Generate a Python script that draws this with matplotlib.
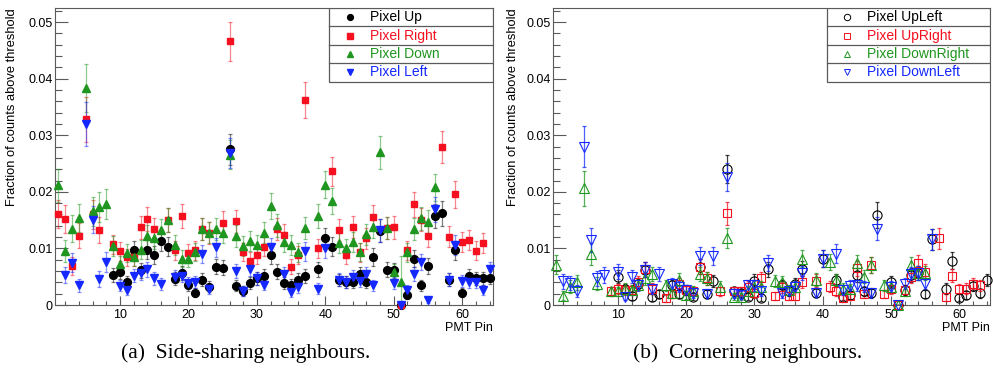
import numpy as np
import matplotlib
matplotlib.use("Agg")
import matplotlib.pyplot as plt
from matplotlib.ticker import MultipleLocator
from matplotlib.patches import Rectangle

nan = np.nan
pins = np.arange(1, 65)

# events recorded for each illuminated pin (sets the error bar size)
n_events = [
    2500, 2500, 2500, 2500, 2100, 2500, 2500, 2500,
    3500, 3500, 3500, 3500, 3500, 3500, 3500, 3500,
    3500, 3500, 3500, 3500, 3500, 3500, 3500, 3500,
    3500, 3800, 3500, 3500, 3500, 3500, 3500, 3500,
    3500, 3500, 3500, 3500, 3500, 3500, 3500, 3500,
    3500, 3500, 3500, 3500, 3500, 3500, 3500, 3200,
    3500, 3500, 200, 3500, 3500, 3500, 3500, 3500,
    3500, 3500, 3500, 3500, 3500, 3500, 3500, 3500,
]

# (a) side-sharing neighbours
pix_up = [
    nan, nan, nan, nan, nan, nan, nan, nan,
    0.0053, 0.0059, 0.0040, 0.0097, 0.0061, 0.0098, 0.0088, 0.0113,
    0.0103, 0.0046, 0.0056, 0.0035, 0.0022, 0.0045, 0.0032, 0.0068,
    0.0066, 0.0275, 0.0034, 0.0025, 0.0039, 0.0047, 0.0052, 0.0088,
    0.0059, 0.0039, 0.0036, 0.0045, 0.0051, nan, 0.0063, 0.0118,
    0.0103, 0.0044, 0.0041, 0.0041, 0.0054, 0.0041, 0.0085, 0.0131,
    0.0062, 0.0061, 0.0000, 0.0018, 0.0082, 0.0035, 0.0069, 0.0158,
    0.0162, 0.0045, 0.0097, 0.0022, 0.0051, 0.0047, 0.0047, 0.0048,
]
pix_right = [
    0.0161, 0.0152, 0.0069, 0.0122, 0.0328, 0.0160, 0.0133, nan,
    0.0107, 0.0095, 0.0084, 0.0085, 0.0137, 0.0152, 0.0134, nan,
    0.0150, 0.0097, 0.0157, 0.0092, 0.0097, 0.0135, 0.0127, nan,
    0.0145, 0.0466, 0.0148, 0.0094, 0.0078, 0.0088, 0.0103, nan,
    0.0135, 0.0124, 0.0068, 0.0088, 0.0362, nan, 0.0100, nan,
    0.0236, 0.0132, 0.0088, 0.0138, 0.0093, 0.0118, 0.0156, nan,
    0.0136, 0.0137, 0.0000, 0.0097, 0.0178, 0.0151, 0.0122, nan,
    0.0279, 0.0121, 0.0196, 0.0111, 0.0115, 0.0096, 0.0109, nan,
]
pix_down = [
    0.0212, 0.0096, 0.0135, 0.0153, 0.0384, 0.0166, 0.0173, 0.0178,
    0.0104, 0.0072, 0.0092, 0.0085, 0.0098, 0.0122, 0.0118, 0.0132,
    0.0150, 0.0106, 0.0082, 0.0082, 0.0094, 0.0135, 0.0128, 0.0134,
    0.0128, 0.0266, 0.0122, 0.0104, 0.0113, 0.0106, 0.0128, 0.0175,
    0.0141, 0.0112, 0.0106, 0.0093, 0.0136, nan, 0.0158, 0.0213,
    0.0184, 0.0110, 0.0100, 0.0112, 0.0094, 0.0125, 0.0138, 0.0270,
    0.0136, 0.0059, 0.0041, 0.0093, 0.0134, 0.0153, 0.0147, 0.0208,
    nan, nan, nan, nan, nan, nan, nan, nan,
]
pix_left = [
    nan, 0.0053, 0.0075, 0.0035, 0.0320, 0.0151, 0.0046, 0.0076,
    nan, 0.0034, 0.0027, 0.0052, 0.0056, 0.0063, 0.0047, 0.0037,
    nan, 0.0050, 0.0052, 0.0039, 0.0041, 0.0090, 0.0029, 0.0102,
    nan, 0.0269, 0.0060, 0.0025, 0.0064, 0.0047, 0.0036, 0.0102,
    nan, 0.0055, 0.0023, 0.0031, 0.0095, nan, 0.0029, 0.0100,
    nan, 0.0045, 0.0041, 0.0050, 0.0043, 0.0054, 0.0035, 0.0132,
    nan, 0.0039, 0.0000, 0.0026, 0.0055, 0.0076, 0.0009, 0.0169,
    nan, 0.0045, 0.0106, 0.0042, 0.0041, 0.0041, 0.0026, 0.0063,
]

# (b) cornering neighbours
pix_upleft = [
    nan, nan, nan, nan, nan, nan, nan, nan,
    nan, 0.0050, 0.0028, 0.0016, 0.0038, 0.0062, 0.0014, 0.0019,
    nan, 0.0035, 0.0019, 0.0026, 0.0015, 0.0068, 0.0019, 0.0042,
    nan, 0.0240, 0.0024, 0.0021, 0.0015, 0.0043, 0.0013, 0.0063,
    nan, 0.0035, 0.0024, 0.0038, 0.0064, nan, 0.0022, 0.0082,
    nan, 0.0044, 0.0015, 0.0018, 0.0053, 0.0024, 0.0022, 0.0159,
    nan, 0.0040, 0.0000, 0.0026, 0.0053, 0.0056, 0.0019, 0.0116,
    nan, 0.0029, 0.0078, 0.0013, 0.0018, 0.0034, 0.0021, 0.0044,
]
pix_upright = [
    nan, nan, nan, nan, nan, nan, nan, nan,
    0.0024, 0.0028, 0.0026, 0.0026, 0.0041, 0.0063, 0.0029, nan,
    0.0012, 0.0019, 0.0038, 0.0026, 0.0024, 0.0068, 0.0047, nan,
    0.0024, 0.0162, 0.0024, 0.0024, 0.0032, 0.0021, 0.0047, nan,
    0.0016, 0.0031, 0.0016, 0.0016, 0.0040, nan, 0.0043, nan,
    0.0032, 0.0024, 0.0012, 0.0016, 0.0065, 0.0019, 0.0071, nan,
    0.0019, 0.0028, 0.0000, 0.0026, 0.0050, 0.0074, 0.0059, nan,
    0.0118, 0.0014, 0.0052, 0.0028, 0.0029, 0.0038, 0.0035, nan,
]
pix_downright = [
    0.0071, 0.0016, 0.0032, 0.0040, 0.0206, 0.0090, 0.0038, nan,
    0.0024, 0.0024, 0.0029, 0.0026, 0.0036, 0.0047, 0.0055, nan,
    0.0035, 0.0021, 0.0045, 0.0018, 0.0025, 0.0055, 0.0047, nan,
    0.0032, 0.0118, 0.0015, 0.0015, 0.0025, 0.0032, 0.0032, nan,
    0.0042, 0.0041, 0.0027, 0.0032, 0.0082, nan, 0.0045, nan,
    0.0076, 0.0044, 0.0029, 0.0028, 0.0074, 0.0050, 0.0071, nan,
    0.0035, 0.0031, 0.0000, 0.0024, 0.0071, 0.0056, 0.0057, nan,
    nan, nan, nan, nan, nan, nan, nan, nan,
]
pix_downleft = [
    nan, 0.0042, 0.0039, 0.0025, 0.0280, 0.0115, 0.0047, 0.0053,
    nan, 0.0059, 0.0015, 0.0050, 0.0035, 0.0062, 0.0028, 0.0055,
    nan, 0.0038, 0.0032, 0.0026, 0.0021, 0.0086, 0.0020, 0.0086,
    nan, 0.0226, 0.0020, 0.0018, 0.0035, 0.0035, 0.0024, 0.0074,
    nan, 0.0021, 0.0024, 0.0032, 0.0057, nan, 0.0022, 0.0082,
    nan, 0.0091, 0.0026, 0.0034, 0.0035, 0.0032, 0.0021, 0.0135,
    nan, 0.0032, 0.0000, 0.0038, 0.0055, 0.0057, 0.0038, 0.0116,
    nan, nan, nan, nan, nan, nan, nan, nan,
]

side_labels = ["Pixel Up", "Pixel Right", "Pixel Down", "Pixel Left"]
corner_labels = ["Pixel UpLeft", "Pixel UpRight", "Pixel DownRight", "Pixel DownLeft"]
colors = ["#000000", "#f5101f", "#1f961f", "#1428ff"]
markers = ["o", "s", "^", "v"]

plt.rcParams["font.family"] = ["Liberation Sans", "DejaVu Sans"]
AX_GRAY = "#5a5a5a"


def style_axes(ax):
    ax.set_xlim(0.5, 64.5)
    ax.set_ylim(0, 0.0525)
    for side in ["top", "right", "left", "bottom"]:
        ax.spines[side].set_color(AX_GRAY)
        ax.spines[side].set_linewidth(0.8)
    ax.xaxis.set_major_locator(MultipleLocator(10))
    ax.xaxis.set_minor_locator(MultipleLocator(2))
    ax.yaxis.set_major_locator(MultipleLocator(0.01))
    ax.yaxis.set_minor_locator(MultipleLocator(0.002))
    ax.yaxis.set_major_formatter(plt.FuncFormatter(lambda v, p: "0" if v == 0 else "%g" % v))
    ax.tick_params(axis="both", which="both", direction="in", color=AX_GRAY,
                   width=0.8, labelsize=9)
    ax.tick_params(axis="y", which="major", length=9.5, pad=1.5)
    ax.tick_params(axis="y", which="minor", length=5)
    ax.tick_params(axis="x", which="major", length=6.5, pad=3)
    ax.tick_params(axis="x", which="minor", length=3.2)
    ax.text(1.0, -0.056, "PMT Pin", transform=ax.transAxes, ha="right",
            va="top", fontsize=9)


def draw_series(ax, series, filled):
    for vals, col, mk in zip(series, colors, markers):
        v = np.array(vals)
        err = np.sqrt(v / np.array(n_events))
        ax.errorbar(pins, v, yerr=err, fmt="none", ecolor=col,
                    elinewidth=0.9, capsize=1.6, capthick=0.9,
                    alpha=0.5 if filled else 0.75, zorder=2)
        if filled:
            ms = {"o": 5.6, "s": 5.0, "^": 5.8, "v": 5.8}[mk]
            ax.plot(pins, v, ls="none", marker=mk, ms=ms, color=col,
                    mec=col, mfc=col, clip_on=False, zorder=3)
        else:
            ms = {"o": 6.6, "s": 6.2, "^": 7.0, "v": 7.0}[mk]
            ax.plot(pins, v, ls="none", marker=mk, ms=ms, color=col,
                    mec=col, mfc="none", mew=0.8, clip_on=False, zorder=3)


def draw_legend(ax, labels, filled):
    x0, y0, w, h = 0.626, 0.752, 0.374, 0.248
    ax.add_patch(Rectangle((x0, y0), w, h, transform=ax.transAxes,
                           fc="white", ec=AX_GRAY, lw=0.9, zorder=5))
    rh = h / 4
    for i, (lab, col, mk) in enumerate(zip(labels, colors, markers)):
        yc = 1 - rh * (i + 0.5)
        if i > 0:
            ax.plot([x0, 1.0], [1 - rh * i] * 2, transform=ax.transAxes,
                    color=AX_GRAY, lw=0.9, zorder=6)
        if filled:
            ax.plot([0.6735], [yc], marker=mk, ms=4.2, color=col, mfc=col,
                    transform=ax.transAxes, zorder=7, clip_on=False)
        else:
            ax.plot([0.6735], [yc], marker=mk, ms=4.6, color=col, mfc="none",
                    mew=0.7, transform=ax.transAxes, zorder=7, clip_on=False)
        ax.text(0.719, yc, lab, color=col, fontsize=10, va="center",
                ha="left", transform=ax.transAxes, zorder=7)


fig = plt.figure(figsize=(9.93, 3.76), dpi=100)
ax1 = fig.add_axes([55 / 993, 1 - 305 / 376, 438 / 993, 297 / 376])
ax2 = fig.add_axes([553 / 993, 1 - 305 / 376, 437 / 993, 297 / 376])

for ax in (ax1, ax2):
    style_axes(ax)

draw_series(ax1, [pix_up, pix_right, pix_down, pix_left], True)
draw_series(ax2, [pix_upleft, pix_upright, pix_downright, pix_downleft], False)
draw_legend(ax1, side_labels, True)
draw_legend(ax2, corner_labels, False)

ylab = "Fraction of counts above threshold"
fig.text(12 / 993, 1 - 8 / 376, ylab, rotation=90, ha="center", va="top", fontsize=9.3)
fig.text(513 / 993, 1 - 8 / 376, ylab, rotation=90, ha="center", va="top", fontsize=9.3)

fig.text(246 / 993, 1 - 353 / 376, "(a)  Side-sharing neighbours.", ha="center",
         va="center", fontsize=15.5, family=["Liberation Serif", "DejaVu Serif"])
fig.text(748 / 993, 1 - 353 / 376, "(b)  Cornering neighbours.", ha="center",
         va="center", fontsize=15.5, family=["Liberation Serif", "DejaVu Serif"])

fig.savefig("out.png", dpi=100)
